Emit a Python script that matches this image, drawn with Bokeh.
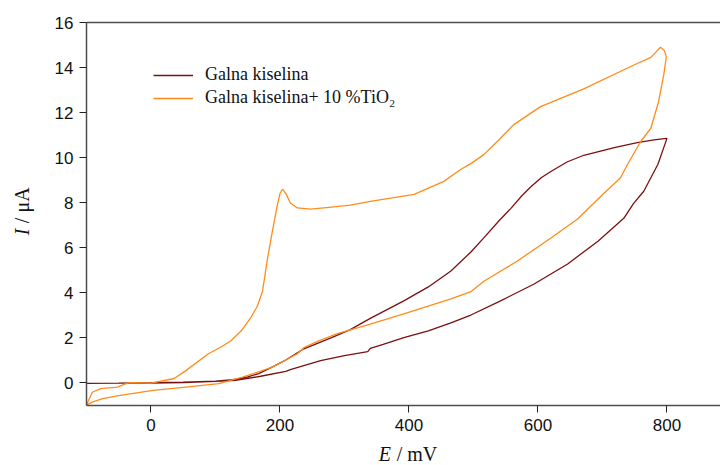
import math
from bokeh.plotting import figure
from bokeh.models import Label, Legend, LegendItem, LinearAxis, FixedTicker, Range1d
from bokeh.embed import file_html
from bokeh.resources import INLINE

# Galna kiselina (gallic acid) - forward and reverse scans
ga_fwd_E = [-100, -50, 0, 50, 100, 127, 150, 167, 190, 209, 237, 280, 309, 340, 392, 430, 465, 496, 516, 540, 558, 575, 589, 605, 620, 645, 671, 720, 754, 780, 799]
ga_fwd_I = [-0.04, -0.03, -0.01, 0.02, 0.06, 0.13, 0.25, 0.4, 0.72, 1.0, 1.5, 2.0, 2.35, 2.85, 3.63, 4.25, 4.96, 5.8, 6.43, 7.2, 7.74, 8.3, 8.7, 9.1, 9.38, 9.8, 10.1, 10.45, 10.66, 10.78, 10.85]
ga_rev_E = [800, 786, 764, 748, 733, 693, 646, 594, 542, 496, 465, 430, 392, 360, 340, 336, 300, 263, 216, 209, 170, 131, 100, 50, 0, -50, -100]
ga_rev_I = [10.85, 9.7, 8.5, 7.95, 7.3, 6.28, 5.27, 4.38, 3.63, 3.0, 2.65, 2.3, 2.0, 1.7, 1.52, 1.37, 1.2, 0.97, 0.57, 0.5, 0.28, 0.1, 0.05, 0.0, -0.02, -0.03, -0.04]

# Galna kiselina + 10 % TiO2 - forward and reverse scans
ti_fwd_E = [-100, -91, -78, -52, -37, -31, 0, 36, 54, 89, 110, 124, 140, 155, 165, 173, 180, 188, 195, 200, 204, 210, 216, 227, 248, 280, 309, 340, 408, 454, 480, 496, 516, 540, 562, 604, 671, 748, 775, 790, 796, 799]
ti_fwd_I = [-1.0, -0.43, -0.27, -0.2, -0.03, 0.0, -0.03, 0.18, 0.53, 1.28, 1.6, 1.86, 2.3, 2.9, 3.4, 4.07, 5.4, 6.7, 7.76, 8.4, 8.6, 8.35, 7.98, 7.76, 7.71, 7.8, 7.88, 8.05, 8.36, 8.94, 9.47, 9.73, 10.13, 10.8, 11.45, 12.26, 13.05, 14.1, 14.45, 14.9, 14.75, 14.47]
ti_rev_E = [799, 795, 787, 775, 759, 739, 728, 702, 661, 620, 568, 516, 496, 465, 392, 340, 289, 260, 237, 227, 201, 186, 142, 105, 54, 3, -50, -75, -91, -100]
ti_rev_I = [14.47, 13.67, 12.48, 11.3, 10.7, 9.7, 9.1, 8.4, 7.26, 6.42, 5.4, 4.5, 4.04, 3.72, 3.05, 2.6, 2.17, 1.85, 1.55, 1.28, 0.88, 0.66, 0.24, -0.05, -0.2, -0.35, -0.58, -0.71, -0.87, -1.0]

x_ticks = [0, 200, 400, 600, 800]
y_ticks = [0, 2, 4, 6, 8, 10, 12, 14, 16]
series_names = ["Galna kiselina", "Galna kiselina+ 10 %TiO\u2082"]
series_colors = ["#7b1010", "#ff8c1a"]

p = figure(width=720, height=465, output_backend="svg", toolbar_location=None,
           x_range=Range1d(-100, 883), y_range=Range1d(-1.02, 16),
           min_border_left=86, min_border_right=0, min_border_top=20, min_border_bottom=60)
p.outline_line_color = None
p.grid.visible = False
p.background_fill_color = "white"
p.border_fill_color = "white"

r1 = p.line(ga_fwd_E + ga_rev_E, ga_fwd_I + ga_rev_I, line_color=series_colors[0], line_width=1.3)
r2 = p.line(ti_fwd_E + ti_rev_E, ti_fwd_I + ti_rev_I, line_color=series_colors[1], line_width=1.3)

for ax in (p.xaxis[0], p.yaxis[0]):
    ax.axis_line_color = "#4d4d4d"
    ax.axis_line_width = 1.5
    ax.major_tick_line_color = "#222222"
    ax.major_tick_line_width = 1
    ax.major_tick_in = 0
    ax.major_tick_out = 7
    ax.minor_tick_line_color = None
    ax.major_label_text_font = "Liberation Sans"
    ax.major_label_text_font_size = "17px"
    ax.major_label_text_color = "#111111"
    ax.major_label_standoff = 6
p.xaxis[0].ticker = FixedTicker(ticks=x_ticks)
p.yaxis[0].ticker = FixedTicker(ticks=y_ticks)

top = LinearAxis(ticker=FixedTicker(ticks=[]), axis_line_color="#4d4d4d", axis_line_width=1.5,
                 major_tick_line_color=None, minor_tick_line_color=None,
                 major_tick_in=0, major_tick_out=0, minor_tick_in=0, minor_tick_out=0,
                 major_label_standoff=0, axis_label_standoff=0,
                 major_label_text_font_size="0px")
p.add_layout(top, "above")

legend = Legend(items=[LegendItem(label=series_names[0], renderers=[r1]),
                       LegendItem(label=series_names[1], renderers=[r2])],
                location=(67, 297), border_line_color=None, background_fill_alpha=0,
                padding=0, margin=0, spacing=2, glyph_width=40, glyph_height=20,
                label_height=20, label_standoff=12,
                label_text_font="Liberation Serif", label_text_font_size="18px",
                label_text_color="#111111")
p.add_layout(legend, "center")

lab_font = "Liberation Serif"
# y axis label: I / μA
p.add_layout(Label(x=-100, y=6.55, x_offset=-65, text="I", angle=math.pi / 2,
                   text_font=lab_font, text_font_style="italic", text_font_size="20px",
                   text_align="left", text_baseline="middle", text_color="#111111"), "left")
p.add_layout(Label(x=-100, y=6.55, x_offset=-65, y_offset=12, text="/ \u03bcA", angle=math.pi / 2,
                   text_font=lab_font, text_font_size="20px",
                   text_align="left", text_baseline="middle", text_color="#111111"), "left")
# x axis label: E / mV
p.add_layout(Label(x=353, y=-1.02, y_offset=-48, text="E",
                   text_font=lab_font, text_font_style="italic", text_font_size="20px",
                   text_align="left", text_baseline="alphabetic", text_color="#111111"), "below")
p.add_layout(Label(x=353, y=-1.02, x_offset=18, y_offset=-48, text="/ mV",
                   text_font=lab_font, text_font_size="20px",
                   text_align="left", text_baseline="alphabetic", text_color="#111111"), "above")

open("out.html", "w").write(file_html(p, INLINE))
